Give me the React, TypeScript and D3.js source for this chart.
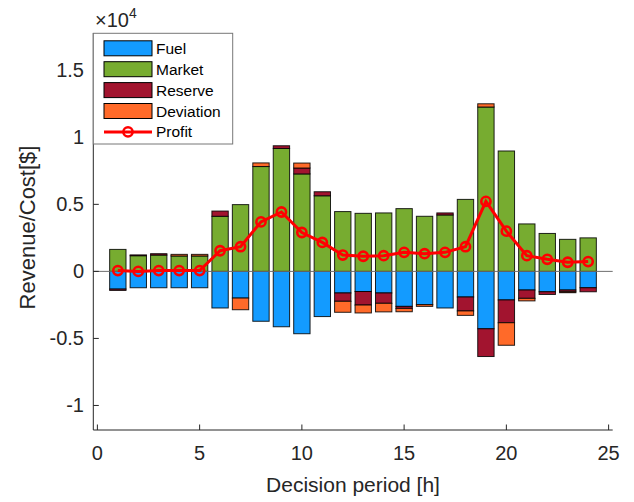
import React, { useEffect, useRef } from 'react';
import * as d3 from 'd3';

// decision periods 1..24
const periods = d3.range(1, 25);

// values in $
const fuel = [-1320, -1220, -1220, -1220, -1220, -2730, -1990, -3720, -4130, -4650, -3370, -1610, -1500, -1610, -2610, -2480, -2730, -1910, -4280, -2130, -1390, -1520, -1390, -1220];
const market = [1640, 1170, 1220, 1150, 1150, 4110, 4980, 7820, 9170, 7270, 5640, 4460, 4330, 4360, 4680, 4110, 4210, 5370, 12260, 8980, 3540, 2830, 2390, 2500];
const reserve = [-100, 60, 100, 0, 0, 390, 0, 0, 200, 440, 300, -620, -1010, -770, -150, 0, 150, -1040, -2070, -1700, -620, -200, -130, -300];
const deviation = [0, 0, 0, 120, 120, 0, -870, 270, 0, 370, 0, -820, -590, -640, -250, -130, 0, -330, 240, -1680, -190, 0, -70, 0];
const profit = [60, 0, 60, 60, 60, 1540, 1840, 3690, 4430, 2900, 2160, 1220, 1130, 1170, 1420, 1320, 1420, 1840, 5220, 3000, 1170, 900, 680, 730];

const seriesNames = ['Fuel', 'Market', 'Reserve', 'Deviation'];
const seriesColors = ['#139BFF', '#77AC30', '#A2142F', '#FF6A29'];
const xTicks = [0, 5, 10, 15, 20, 25];
const yTicks = [-1, -0.5, 0, 0.5, 1, 1.5];

const font = '"Liberation Sans", Arial, sans-serif';

const App = () => {
  const ref = useRef<SVGSVGElement>(null);

  useEffect(() => {
    const svg = d3.select(ref.current);
    svg.selectAll('*').remove();

    const left = 93.3, right = 612.7, top = 33, bottom = 430;
    const x = d3.scaleLinear().domain([-0.2, 25.2]).range([left, right]);
    const y = d3.scaleLinear().domain([-11830, 17780]).range([bottom, top]);
    const barW = x(0.8) - x(0);

    const rows = periods.map((p, i) => ({
      period: p,
      Fuel: fuel[i],
      Market: market[i],
      Reserve: reserve[i],
      Deviation: deviation[i],
    }));
    const stacked = d3.stack<any>()
      .keys(seriesNames)
      .offset(d3.stackOffsetDiverging)(rows);

    // bars
    stacked.forEach((layer, k) => {
      svg.append('g')
        .selectAll('rect')
        .data(layer.filter(d => d[1] - d[0] !== 0))
        .enter().append('rect')
        .attr('x', d => x(d.data.period) - barW / 2)
        .attr('y', d => y(Math.max(d[0], d[1])))
        .attr('width', barW)
        .attr('height', d => Math.abs(y(d[0]) - y(d[1])))
        .attr('fill', seriesColors[k])
        .attr('stroke', '#000')
        .attr('stroke-opacity', 0.85)
        .attr('stroke-width', 1);
    });

    // baseline
    svg.append('line')
      .attr('x1', left).attr('x2', right)
      .attr('y1', y(0)).attr('y2', y(0))
      .attr('stroke', '#6e6e6e').attr('stroke-width', 1);

    // profit line
    const line = d3.line<number>()
      .x((d, i) => x(periods[i]))
      .y(d => y(d));
    svg.append('path')
      .datum(profit)
      .attr('d', line)
      .attr('fill', 'none')
      .attr('stroke', '#FF0000')
      .attr('stroke-width', 3);
    svg.append('g')
      .selectAll('circle')
      .data(profit)
      .enter().append('circle')
      .attr('cx', (d, i) => x(periods[i]))
      .attr('cy', d => y(d))
      .attr('r', 4.6)
      .attr('fill', 'none')
      .attr('stroke', '#FF0000')
      .attr('stroke-width', 2.6);

    // axes
    const axisColor = '#262626';
    svg.append('line')
      .attr('x1', left).attr('x2', right).attr('y1', bottom).attr('y2', bottom)
      .attr('stroke', axisColor);
    svg.append('line')
      .attr('x1', left).attr('x2', left).attr('y1', top).attr('y2', bottom)
      .attr('stroke', axisColor);

    xTicks.forEach(t => {
      svg.append('line')
        .attr('x1', x(t)).attr('x2', x(t)).attr('y1', bottom).attr('y2', bottom - 5.5)
        .attr('stroke', axisColor);
      svg.append('text')
        .attr('x', x(t)).attr('y', 460)
        .attr('text-anchor', 'middle')
        .attr('font-family', font).attr('font-size', 20)
        .attr('fill', axisColor)
        .text(t);
    });
    yTicks.forEach(t => {
      svg.append('line')
        .attr('x1', left).attr('x2', left + 5.5).attr('y1', y(t * 1e4)).attr('y2', y(t * 1e4))
        .attr('stroke', axisColor);
      svg.append('text')
        .attr('x', 84).attr('y', y(t * 1e4) + 7)
        .attr('text-anchor', 'end')
        .attr('font-family', font).attr('font-size', 20)
        .attr('fill', axisColor)
        .text(t);
    });

    // exponent
    const expo = svg.append('text')
      .attr('x', 95).attr('y', 27)
      .attr('font-family', font).attr('font-size', 20)
      .attr('fill', axisColor);
    expo.append('tspan').text('\u00D710');
    expo.append('tspan').attr('font-size', 14).attr('dy', -9).text('4');

    // axis labels
    svg.append('text')
      .attr('x', (left + right) / 2).attr('y', 492)
      .attr('text-anchor', 'middle')
      .attr('font-family', font).attr('font-size', 21)
      .attr('fill', axisColor)
      .text('Decision period [h]');
    svg.append('text')
      .attr('transform', 'translate(35,227.5) rotate(-90)')
      .attr('text-anchor', 'middle')
      .attr('font-family', font).attr('font-size', 22)
      .attr('fill', axisColor)
      .text('Revenue/Cost[$]');

    // legend
    const lg = svg.append('g');
    lg.append('rect')
      .attr('x', 93.3).attr('y', 33.3).attr('width', 139.4).attr('height', 110.7)
      .attr('fill', '#fff').attr('stroke', '#777').attr('stroke-width', 1);
    const rowY = (i: number) => 48.3 + i * 20.9;
    seriesNames.forEach((name, i) => {
      lg.append('rect')
        .attr('x', 104).attr('y', rowY(i) - 7.5).attr('width', 48).attr('height', 15)
        .attr('fill', seriesColors[i]).attr('stroke', '#000').attr('stroke-width', 1);
      lg.append('text')
        .attr('x', 156).attr('y', rowY(i) + 5.5)
        .attr('font-family', font).attr('font-size', 15.5)
        .attr('fill', '#000')
        .text(name);
    });
    lg.append('line')
      .attr('x1', 104).attr('x2', 152).attr('y1', rowY(4)).attr('y2', rowY(4))
      .attr('stroke', '#FF0000').attr('stroke-width', 3);
    lg.append('circle')
      .attr('cx', 128).attr('cy', rowY(4)).attr('r', 4.6)
      .attr('fill', 'none').attr('stroke', '#FF0000').attr('stroke-width', 2.6);
    lg.append('text')
      .attr('x', 156).attr('y', rowY(4) + 5.5)
      .attr('font-family', font).attr('font-size', 15.5)
      .attr('fill', '#000')
      .text('Profit');
  }, []);

  return (
    <svg ref={ref} width={634} height={502}
      style={{ position: 'absolute', left: 0, top: 0, background: '#fff' }} />
  );
};

export default App;
